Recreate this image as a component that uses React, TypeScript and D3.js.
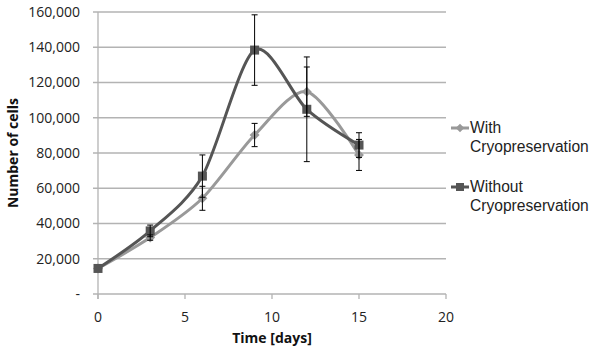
import React from "react";
import * as d3 from "d3";

const days = [0, 3, 6, 9, 12, 15];
const withCryo = [14500, 32000, 54300, 90200, 114800, 78900];
const withCryoErr = [0, 1500, 6800, 6600, 14000, 8800];
const withoutCryo = [14500, 35800, 66900, 138400, 104800, 84500];
const withoutCryoErr = [0, 3300, 12000, 20000, 29700, 7000];
const yTicks = [0, 20000, 40000, 60000, 80000, 100000, 120000, 140000, 160000];
const xTicks = [0, 5, 10, 15, 20];

const W = 599;
const H = 355;
const left = 98;
const right = 446;
const top = 12;
const bottom = 294;

export default function App() {
  const x = d3.scaleLinear().domain([0, 20]).range([left, right]);
  const y = d3.scaleLinear().domain([0, 160000]).range([bottom, top]);
  const line = d3
    .line<number>()
    .x((_, i) => x(days[i]))
    .y((v) => y(v))
    .curve(d3.curveCardinal.tension(0.15));

  const fmt = (v: number) => (v === 0 ? "-" : d3.format(",")(v));
  const lightC = "#999999";
  const darkC = "#555555";
  const tickFont = "'Open Sans', sans-serif";

  const errBars = (vals: number[], errs: number[], key: string) =>
    vals.map((v, i) =>
      errs[i] > 0 ? (
        <g key={key + i} stroke="#000" strokeWidth={1}>
          <line x1={x(days[i])} x2={x(days[i])} y1={y(v + errs[i])} y2={y(v - errs[i])} />
          <line x1={x(days[i]) - 3} x2={x(days[i]) + 3} y1={y(v + errs[i])} y2={y(v + errs[i])} />
          <line x1={x(days[i]) - 3} x2={x(days[i]) + 3} y1={y(v - errs[i])} y2={y(v - errs[i])} />
        </g>
      ) : null
    );

  return (
    <svg width={W} height={H} style={{ position: "absolute", left: 0, top: 0, background: "#fff" }}>
      {yTicks.map((t) => (
        <g key={"y" + t}>
          <line x1={left - 5} x2={right} y1={y(t)} y2={y(t)} stroke="#b3b3b3" strokeWidth={1.3} />
          <text x={80} y={y(t)} dy="0.35em" textAnchor="end" fontFamily={tickFont} fontSize={14} fill="#222">
            {fmt(t)}
          </text>
        </g>
      ))}
      <line x1={left} x2={left} y1={top} y2={bottom + 5} stroke="#b3b3b3" strokeWidth={1.3} />
      {xTicks.map((t) => (
        <g key={"x" + t}>
          <line x1={x(t)} x2={x(t)} y1={bottom} y2={bottom + 5} stroke="#b3b3b3" strokeWidth={1.3} />
          <text x={x(t)} y={317} dy="0.35em" textAnchor="middle" fontFamily={tickFont} fontSize={14} fill="#222">
            {t}
          </text>
        </g>
      ))}
      <text x={272} y={338} dy="0.35em" textAnchor="middle" fontFamily={tickFont} fontSize={14} fontWeight="bold" fill="#111">
        Time [days]
      </text>
      <text
        transform={`translate(13,${(top + bottom) / 2}) rotate(-90)`}
        dy="0.35em"
        textAnchor="middle"
        fontFamily={tickFont}
        fontSize={14}
        fontWeight="bold"
        fill="#111"
      >
        Number of cells
      </text>

      <path d={line(withCryo) || ""} fill="none" stroke={lightC} strokeWidth={3} />
      <path d={line(withoutCryo) || ""} fill="none" stroke={darkC} strokeWidth={3} />

      {withCryo.map((v, i) => (
        <rect
          key={"wm" + i}
          x={-3.5}
          y={-3.5}
          width={7}
          height={7}
          fill={lightC}
          transform={`translate(${x(days[i])},${y(v)}) rotate(45)`}
        />
      ))}
      {withoutCryo.map((v, i) => (
        <rect key={"om" + i} x={x(days[i]) - 4.5} y={y(v) - 4.5} width={9} height={9} fill={darkC} />
      ))}
      {errBars(withCryo, withCryoErr, "we")}
      {errBars(withoutCryo, withoutCryoErr, "oe")}

      <g fontFamily="'Liberation Sans', Arial, sans-serif" fontSize={15.6} fill="#222">
        <line x1={451} x2={469} y1={128} y2={128} stroke={lightC} strokeWidth={3} />
        <rect x={-3} y={-3} width={6} height={6} fill={lightC} transform="translate(460,128) rotate(45)" />
        <text x={470} y={128} dy="0.35em">With</text>
        <text x={470} y={147} dy="0.35em">Cryopreservation</text>
        <line x1={451} x2={469} y1={187} y2={187} stroke={darkC} strokeWidth={3} />
        <rect x={456} y={183} width={8} height={8} fill={darkC} />
        <text x={470} y={187} dy="0.35em">Without</text>
        <text x={470} y={206} dy="0.35em">Cryopreservation</text>
      </g>
    </svg>
  );
}
